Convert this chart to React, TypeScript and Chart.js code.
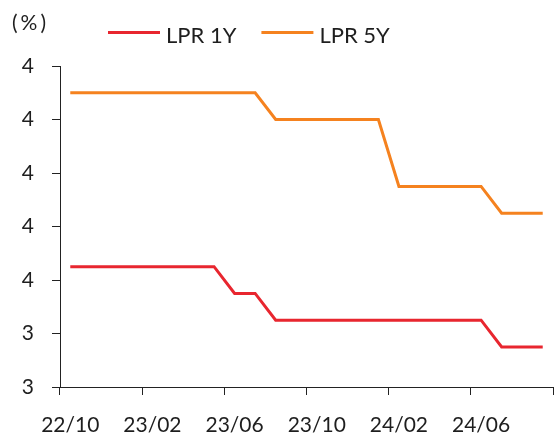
import React, { useEffect, useRef } from 'react';
import { Chart, registerables } from 'chart.js';

Chart.register(...registerables);

const months = [
  '22/10', '22/11', '22/12', '23/01', '23/02', '23/03', '23/04', '23/05',
  '23/06', '23/07', '23/08', '23/09', '23/10', '23/11', '23/12', '24/01',
  '24/02', '24/03', '24/04', '24/05', '24/06', '24/07', '24/08', '24/09',
];

const lpr1y = [
  3.65, 3.65, 3.65, 3.65, 3.65, 3.65, 3.65, 3.65,
  3.55, 3.55, 3.45, 3.45, 3.45, 3.45, 3.45, 3.45,
  3.45, 3.45, 3.45, 3.45, 3.45, 3.35, 3.35, 3.35,
];

const lpr5y = [
  4.3, 4.3, 4.3, 4.3, 4.3, 4.3, 4.3, 4.3,
  4.3, 4.3, 4.2, 4.2, 4.2, 4.2, 4.2, 4.2,
  3.95, 3.95, 3.95, 3.95, 3.95, 3.85, 3.85, 3.85,
];

const seriesNames = ['LPR 1Y', 'LPR 5Y'];
const seriesColors = ['#E8262F', '#F5821F'];
const unitLabel = '(%)';
const yMin = 3.2;
const yMax = 4.4;
const yStep = 0.2;
const labelEvery = 4;

const FONT = 'Lato, "Noto Sans", sans-serif';
const TEXT = '#1e1e1e';
const AXIS = '#222222';

const overlayPlugin = {
  id: 'overlayText',
  afterDraw(chart: any) {
    const ctx = chart.ctx as CanvasRenderingContext2D;
    ctx.save();
    ctx.fillStyle = TEXT;
    ctx.textBaseline = 'middle';
    ctx.textAlign = 'left';
    // unit label
    ctx.font = `21px ${FONT}`;
    (ctx as any).letterSpacing = '3px';
    ctx.fillText(unitLabel, 12, 23);
    (ctx as any).letterSpacing = '0px';
    // legend
    ctx.font = `22px ${FONT}`;
    let x = 108;
    const lineY = 32.5;
    chart.data.datasets.forEach((ds: any) => {
      ctx.strokeStyle = ds.borderColor;
      ctx.lineWidth = 3;
      ctx.beginPath();
      ctx.moveTo(x, lineY);
      ctx.lineTo(x + 52, lineY);
      ctx.stroke();
      ctx.fillStyle = TEXT;
      ctx.fillText(ds.label, x + 58, 36);
      const w = ctx.measureText(ds.label).width;
      x = x + 58 + w + 25;
    });
    ctx.restore();
  },
};

export default function App() {
  const canvasRef = useRef<HTMLCanvasElement | null>(null);

  useEffect(() => {
    document.body.style.margin = '0';
    const canvas = canvasRef.current;
    if (!canvas) return;
    const chart = new Chart(canvas, {
      type: 'line',
      data: {
        labels: months,
        datasets: [
          {
            label: seriesNames[0],
            data: lpr1y,
            borderColor: seriesColors[0],
            backgroundColor: seriesColors[0],
            borderWidth: 3,
            pointRadius: 0,
            tension: 0,
          },
          {
            label: seriesNames[1],
            data: lpr5y,
            borderColor: seriesColors[1],
            backgroundColor: seriesColors[1],
            borderWidth: 3,
            pointRadius: 0,
            tension: 0,
          },
        ],
      },
      options: {
        responsive: false,
        animation: false,
        layout: { padding: { top: 66, left: 0, right: 2, bottom: 0 } },
        plugins: {
          legend: { display: false },
          title: { display: false },
          tooltip: { enabled: false },
        },
        scales: {
          x: {
            type: 'category',
            offset: true,
            grid: {
              offset: true,
              drawOnChartArea: false,
              drawTicks: true,
              tickLength: 8,
              lineWidth: 1,
              color: (c: any) =>
                c.index === undefined || c.index % labelEvery === 0 ? AXIS : 'rgba(0,0,0,0)',
            },
            border: { display: true, color: AXIS, width: 1 },
            ticks: {
              autoSkip: false,
              maxRotation: 0,
              minRotation: 0,
              padding: 18,
              color: TEXT,
              font: { family: FONT, size: 21 },
              callback: (_v: any, i: number) => (i % labelEvery === 0 ? months[i] : ''),
            },
            afterFit: (s: any) => {
              s.height = 49;
              s.paddingLeft = 0;
              s.paddingRight = 0;
            },
          },
          y: {
            min: yMin,
            max: yMax,
            grid: {
              drawOnChartArea: false,
              drawTicks: true,
              tickLength: 8,
              color: AXIS,
              lineWidth: 1,
            },
            border: { display: true, color: AXIS, width: 1 },
            ticks: {
              stepSize: yStep,
              padding: 18,
              color: TEXT,
              font: { family: FONT, size: 21 },
              callback: (v: any) => String(Math.round(Number(v))),
            },
            afterFit: (s: any) => {
              s.width = 60;
            },
          },
        },
      },
      plugins: [overlayPlugin],
    });
    return () => chart.destroy();
  }, []);

  return (
    <div style={{ width: 555, height: 436 }}>
      <canvas ref={canvasRef} width={555} height={436} style={{ display: 'block' }} />
    </div>
  );
}
